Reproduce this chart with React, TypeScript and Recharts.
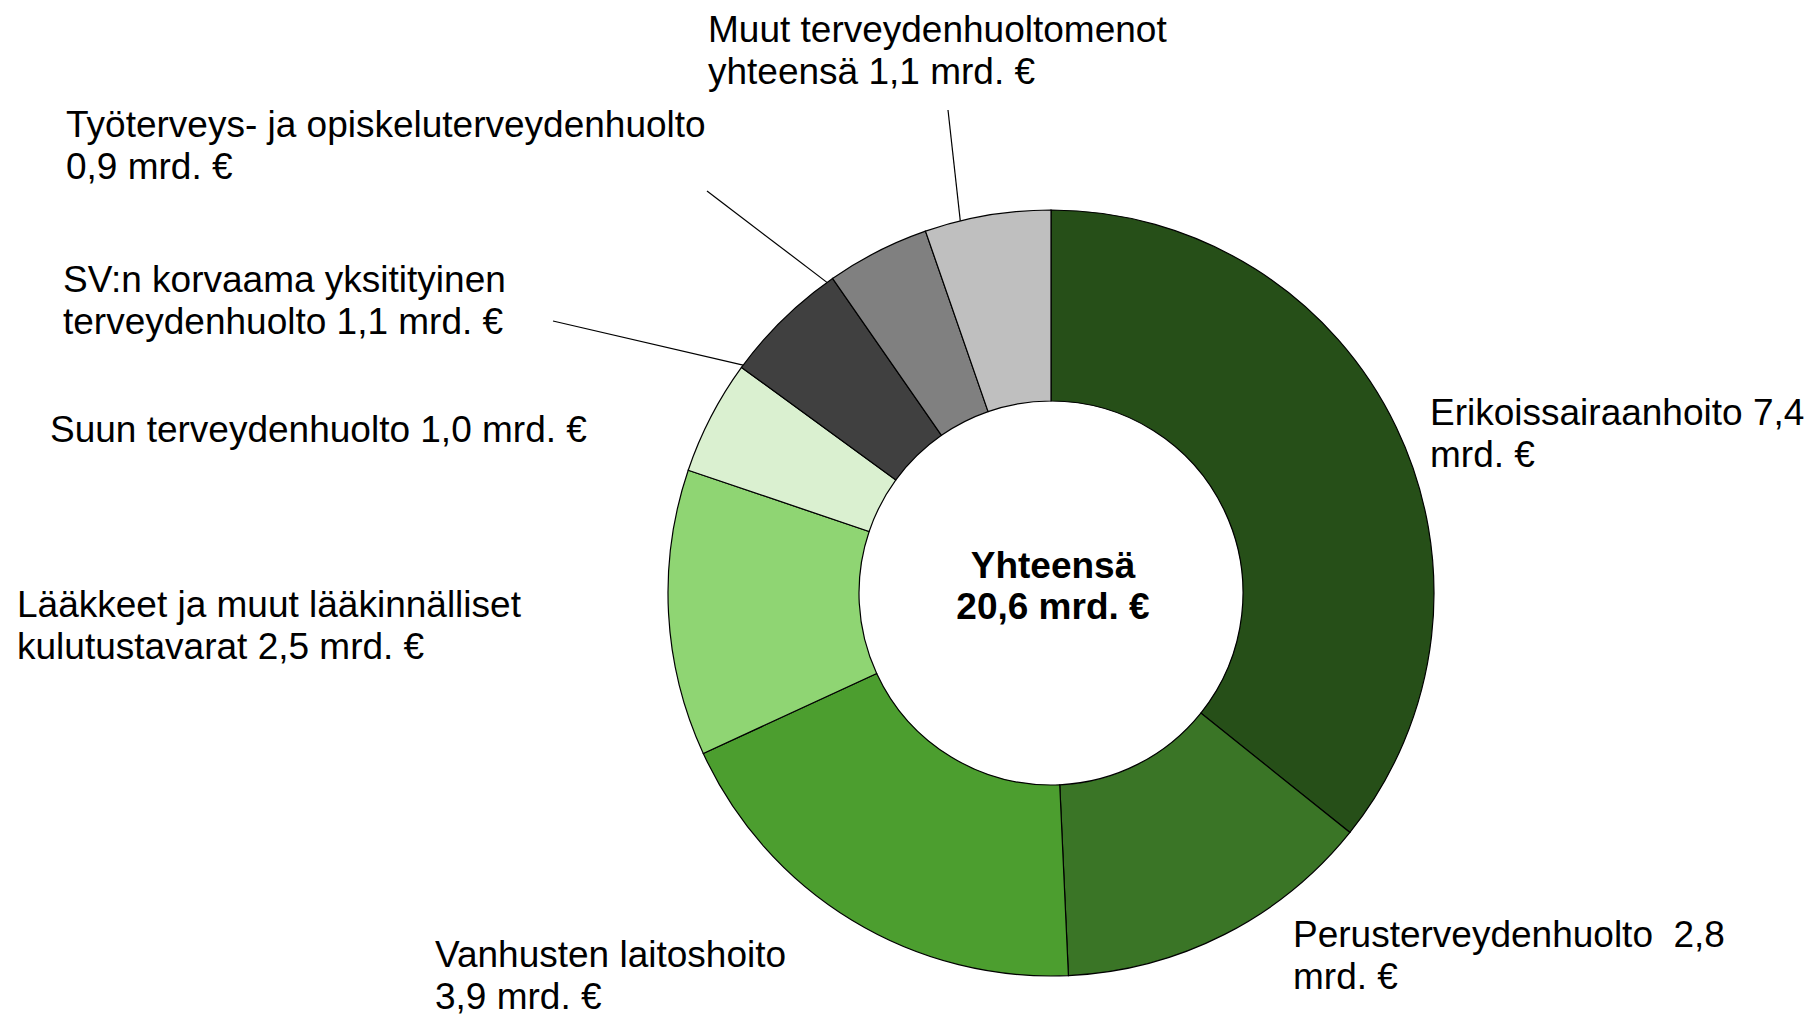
import React from "react";
import { PieChart, Pie, Cell } from "recharts";

const categories = [
  "Erikoissairaanhoito",
  "Perusterveydenhuolto",
  "Vanhusten laitoshoito",
  "Lääkkeet ja muut lääkinnälliset kulutustavarat",
  "Suun terveydenhuolto",
  "SV:n korvaama yksitityinen terveydenhuolto",
  "Työterveys- ja opiskeluterveydenhuolto",
  "Muut terveydenhuoltomenot yhteensä",
];
const values = [7.4, 2.8, 3.9, 2.5, 1.0, 1.1, 0.9, 1.1];
const labelLines = [
  ["Erikoissairaanhoito 7,4", "mrd. €"],
  ["Perusterveydenhuolto  2,8", "mrd. €"],
  ["Vanhusten laitoshoito", "3,9 mrd. €"],
  ["Lääkkeet ja muut lääkinnälliset", "kulutustavarat 2,5 mrd. €"],
  ["Suun terveydenhuolto 1,0 mrd. €"],
  ["SV:n korvaama yksitityinen", "terveydenhuolto 1,1 mrd. €"],
  ["Työterveys- ja opiskeluterveydenhuolto", "0,9 mrd. €"],
  ["Muut terveydenhuoltomenot", "yhteensä 1,1 mrd. €"],
];
const totalLines = ["Yhteensä", "20,6 mrd. €"];

const colors = [
  "#264F18",
  "#3A7526",
  "#4C9E2F",
  "#8FD573",
  "#DAF0D0",
  "#404040",
  "#808080",
  "#BFBFBF",
];

const data = categories.map((name, i) => ({ name, value: values[i] }));

// label layout relative to pie centre (text x, first baseline), leader: start offset + angle (deg from top, ccw)
const labelLayout = [
  { dx: 379, dy: -168 },
  { dx: 242, dy: 354 },
  { dx: -616, dy: 374 },
  { dx: -1034, dy: 24 },
  { dx: -1001, dy: -151 },
  { dx: -988, dy: -301, lead: { dx: -498, dy: -272, ang: 53.5 } },
  { dx: -985, dy: -456, lead: { dx: -344, dy: -402, ang: 35.8 } },
  { dx: -343, dy: -551, lead: { dx: -103, dy: -483, ang: 13.7 } },
];

const FONT = "'Liberation Sans', Arial, sans-serif";
const FS = 37;
const LH = 42;

const renderLabel = (props: any) => {
  const { cx, cy, outerRadius, index } = props;
  const lay = labelLayout[index];
  const lines = labelLines[index];
  let leader = null;
  if (lay.lead) {
    const a = (lay.lead.ang * Math.PI) / 180;
    const ex = cx - outerRadius * Math.sin(a);
    const ey = cy - outerRadius * Math.cos(a);
    leader = (
      <line
        x1={cx + lay.lead.dx}
        y1={cy + lay.lead.dy}
        x2={ex}
        y2={ey}
        stroke="#000"
        strokeWidth={1.2}
      />
    );
  }
  const center =
    index === 0 ? (
      <text
        x={cx}
        y={cy - 15}
        textAnchor="middle"
        fontFamily={FONT}
        fontSize={37}
        fontWeight="bold"
        fill="#000"
      >
        <tspan x={cx + 2} dy={0}>{totalLines[0]}</tspan>
        <tspan x={cx + 2} dy={41}>{totalLines[1]}</tspan>
      </text>
    ) : null;
  return (
    <g key={`lbl-${index}`}>
      {center}
      {leader}
      <text
        x={cx + lay.dx}
        y={cy + lay.dy}
        fontFamily={FONT}
        fontSize={FS}
        fill="#000"
        textAnchor="start"
      >
        {lines.map((l, i) => (
          <tspan key={i} x={cx + lay.dx} dy={i === 0 ? 0 : LH} style={{ whiteSpace: "pre" }}>
            {l}
          </tspan>
        ))}
      </text>
    </g>
  );
};

export default function App() {
  return (
    <div style={{ position: "absolute", left: 0, top: 0, width: 1813, height: 1014, background: "#fff" }}>
      <PieChart width={1813} height={1014} margin={{ top: 0, right: 0, bottom: 0, left: 0 }}>
        <Pie
          data={data}
          dataKey="value"
          nameKey="name"
          cx={1051}
          cy={593}
          innerRadius={192}
          outerRadius={383}
          startAngle={90}
          endAngle={-270}
          stroke="#000"
          strokeWidth={1.2}
          label={renderLabel}
          labelLine={false}
          isAnimationActive={false}
        >
          {data.map((d, i) => (
            <Cell key={d.name} fill={colors[i]} />
          ))}
        </Pie>
      </PieChart>
    </div>
  );
}
